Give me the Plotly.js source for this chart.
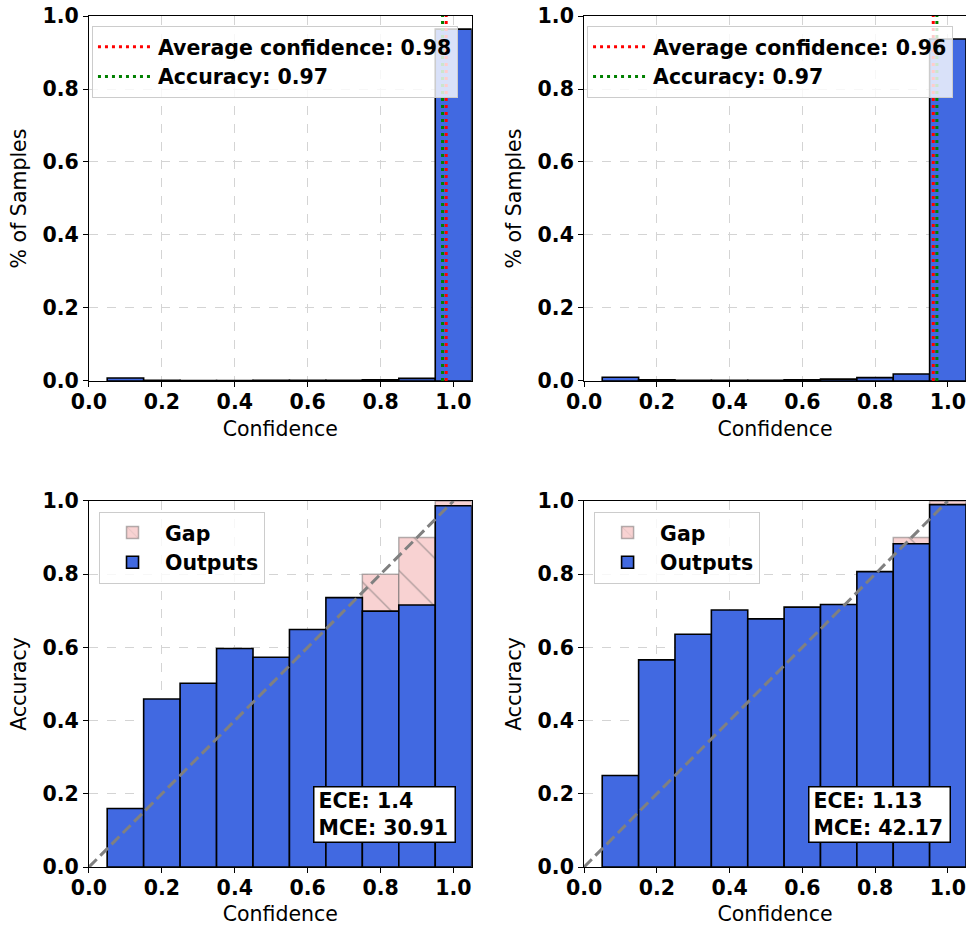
<!DOCTYPE html>
<html>
<head>
<meta charset="utf-8">
<script src="https://cdn.plot.ly/plotly-3.0.1.min.js"></script>
<style>html,body{margin:0;padding:0;background:#fff;}#chart{width:966px;height:926px;}</style>
</head>
<body>
<div id="chart"></div>
<script>
// ---- data ----
const binCenters = [0.1, 0.2, 0.3, 0.4, 0.5, 0.6, 0.7, 0.8, 0.9, 1.0];
const samplesLeft  = [0.008, 0.002, 0.001, 0.001, 0.002, 0.002, 0.002, 0.003, 0.007, 0.964];
const samplesRight = [0.010, 0.003, 0.002, 0.002, 0.002, 0.003, 0.005, 0.009, 0.019, 0.937];
const accuracyLeft  = [0.160, 0.459, 0.502, 0.597, 0.573, 0.649, 0.736, 0.699, 0.716, 0.987];
const accuracyRight = [0.250, 0.566, 0.636, 0.702, 0.678, 0.710, 0.717, 0.807, 0.883, 0.990];
const avgConfLeft = 0.98, accLeft = 0.97;
const avgConfRight = 0.96, accRight = 0.97;
const eceLeft = "1.4", mceLeft = "30.91";
const eceRight = "1.13", mceRight = "42.17";
const tickVals = [0, 0.2, 0.4, 0.6, 0.8, 1.0];

const FONT = "DejaVu Sans";
const FS = 20.5;
const BLUE = "#4169E1";
const binWidth = binCenters.map(() => 0.1);

function histTrace(y, xa, ya) {
  return {type: "bar", x: binCenters, y: y, width: binWidth, xaxis: xa, yaxis: ya,
    marker: {color: BLUE, line: {color: "#000", width: 1.6}}, showlegend: false, hoverinfo: "skip"};
}
function vline(x, color, name, xa, ya, leg) {
  return {type: "scatter", mode: "lines", x: [x, x], y: [0, 1], xaxis: xa, yaxis: ya,
    line: {color: color, width: 3, dash: "3px,4px"}, name: name, legend: leg, cliponaxis: false};
}
function gapTrace(xa, ya, leg, show) {
  return {type: "bar", x: binCenters, y: binCenters, width: binWidth, xaxis: xa, yaxis: ya,
    name: "Gap", legend: leg, showlegend: show,
    marker: {color: "rgba(240,150,150,0.4)", line: {color: "rgba(90,90,90,0.45)", width: 1.5},
      pattern: {shape: "\\", fgcolor: "rgba(110,110,110,0.55)", bgcolor: "rgba(248,210,210,1)", size: 34, solidity: 0.04, fillmode: "replace"}}};
}
function outTrace(y, xa, ya, leg) {
  return {type: "bar", x: binCenters, y: y, width: binWidth, xaxis: xa, yaxis: ya,
    name: "Outputs", legend: leg, marker: {color: BLUE, line: {color: "#000", width: 1.6}}};
}
function diag(xa, ya) {
  return {type: "scatter", mode: "lines", x: [0, 1], y: [0, 1], xaxis: xa, yaxis: ya,
    line: {color: "gray", width: 3, dash: "11px,5px"}, showlegend: false, hoverinfo: "skip"};
}

const data = [
  histTrace(samplesLeft, "x", "y"),
  vline(avgConfLeft, "red", "Average confidence: " + avgConfLeft.toFixed(2), "x", "y", "legend"),
  vline(accLeft, "green", "Accuracy: " + accLeft.toFixed(2), "x", "y", "legend"),
  histTrace(samplesRight, "x2", "y2"),
  vline(avgConfRight, "red", "Average confidence: " + avgConfRight.toFixed(2), "x2", "y2", "legend2"),
  vline(accRight, "green", "Accuracy: " + accRight.toFixed(2), "x2", "y2", "legend2"),
  gapTrace("x3", "y3", "legend3", true),
  outTrace(accuracyLeft, "x3", "y3", "legend3"),
  diag("x3", "y3"),
  gapTrace("x4", "y4", "legend4", true),
  outTrace(accuracyRight, "x4", "y4", "legend4"),
  diag("x4", "y4")
];

function xax(domain, anchor) {
  return {domain: domain, anchor: anchor, range: [0, 1.05], tickvals: tickVals, tickformat: ".1f",
    ticks: "outside", ticklen: 5, tickwidth: 1, tickcolor: "#000", ticklabelstandoff: -3,
    showline: true, linecolor: "#000", linewidth: 1, mirror: true,
    showgrid: true, gridcolor: "#d4d4d4", griddash: "dash", gridwidth: 1, zeroline: false,
    tickfont: {family: FONT, size: FS, color: "#000", weight: "bold"},
    title: {text: "Confidence", font: {family: FONT, size: FS, color: "#000"}, standoff: 9}};
}
function yax(domain, anchor, title) {
  return {domain: domain, anchor: anchor, range: [0, 1], tickvals: tickVals, tickformat: ".1f",
    ticks: "outside", ticklen: 5, tickwidth: 1, tickcolor: "#000",
    showline: true, linecolor: "#000", linewidth: 1, mirror: true,
    showgrid: true, gridcolor: "#d4d4d4", griddash: "dash", gridwidth: 1, zeroline: false,
    tickfont: {family: FONT, size: FS, color: "#000", weight: "bold"},
    title: {text: title, font: {family: FONT, size: FS, color: "#000"}, standoff: 10}};
}
function leg(x, y) {
  return {x: x, y: y, xanchor: "left", yanchor: "top", bgcolor: "rgba(255,255,255,0.8)",
    bordercolor: "#cccccc", borderwidth: 1, itemwidth: 55, tracegroupgap: 0,
    font: {family: FONT, size: FS, color: "#000", weight: "bold"}};
}

const xL = [0.0921, 0.4883], xR = [0.6046, 1.0];
const yT = [0.5886, 0.9827], yB = [0.0637, 0.4590];

function ann(xref, yref, ece, mce) {
  return {xref: xref, yref: yref, x: 0.96, y: 0.065, xanchor: "right", yanchor: "bottom",
    text: "ECE: " + ece + "<br>MCE: " + mce, align: "left", showarrow: false,
    width: 132, height: 46, borderpad: 4,
    bgcolor: "#fff", bordercolor: "#000", borderwidth: 1.5,
    font: {family: FONT, size: FS, color: "#000", weight: "bold"}};
}

const layout = {
  width: 966, height: 926, margin: {l: 0, r: 0, t: 0, b: 0},
  paper_bgcolor: "#fff", plot_bgcolor: "#fff",
  barmode: "overlay", bargap: 0,
  font: {family: FONT},
  xaxis: xax(xL, "y"), yaxis: yax(yT, "x", "% of Samples"),
  xaxis2: xax(xR, "y2"), yaxis2: yax(yT, "x2", "% of Samples"),
  xaxis3: xax(xL, "y3"), yaxis3: yax(yB, "x3", "Accuracy"),
  xaxis4: xax(xR, "y4"), yaxis4: yax(yB, "x4", "Accuracy"),
  legend: leg(0.0952, 0.9719),
  legend2: leg(0.6077, 0.9719),
  legend3: leg(0.1025, 0.4474),
  legend4: leg(0.6150, 0.4474),
  annotations: [
    ann("x3 domain", "y3 domain", eceLeft, mceLeft),
    ann("x4 domain", "y4 domain", eceRight, mceRight)
  ]
};

Plotly.newPlot("chart", data, layout, {displayModeBar: false, staticPlot: true});
</script>
</body>
</html>
